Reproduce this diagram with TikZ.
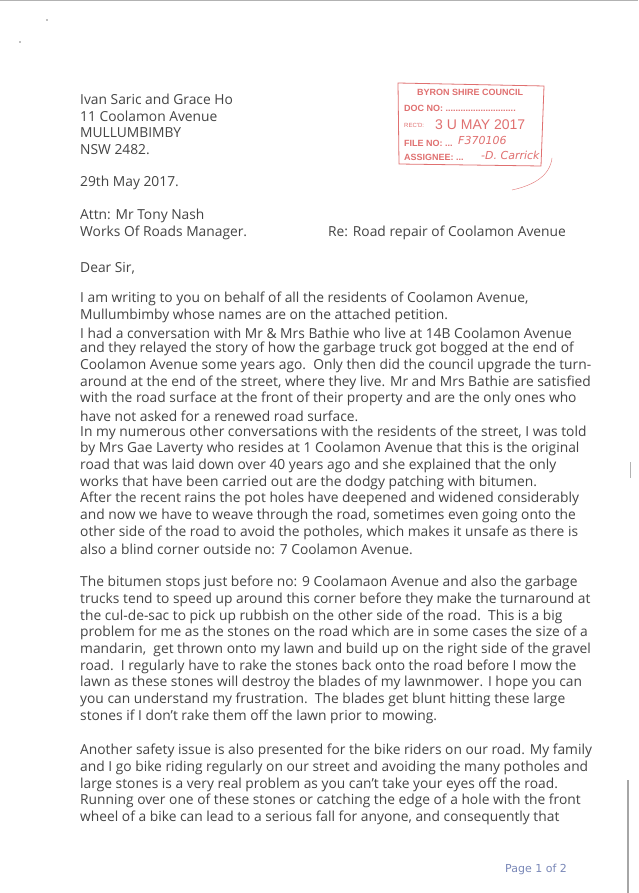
\documentclass[tikz,border=0pt]{standalone}
\usepackage{fontspec}
\setmainfont{Open Sans}
\newfontfamily\stampfont{Liberation Sans}
\newfontfamily\handfont{DejaVu Sans}
\usetikzlibrary{positioning}
\definecolor{ink}{HTML}{444444}
\definecolor{stampred}{HTML}{E07070}
\definecolor{pencil}{HTML}{7A88B8}
\tikzset{
  txt/.style={anchor=west, inner sep=0pt, text=ink, font=\fontsize{13.8}{13.8}\selectfont},
  stamptxt/.style={anchor=west, inner sep=0pt, text=stampred, font=\stampfont\bfseries\fontsize{9}{9}\selectfont},
  hand/.style={anchor=west, inner sep=0pt, text=stampred, font=\handfont\itshape\fontsize{11}{11}\selectfont}
}
\begin{document}
\begin{tikzpicture}[x=1pt,y=-1pt]
  \useasboundingbox (0,0) rectangle (638,893);
  \fill[white] (0,0) rectangle (638,893);
  % scan marks
  \draw[gray!60, line width=0.8pt] (0,0.5) -- (638,0.5);
  \draw[gray!70, line width=1.2pt] (628,780) -- (628,893);
  \draw[gray!60] (630,462) -- (630,478);
  \fill[gray] (47,20) circle (0.8) (20,42) circle (0.8);

  % sender
  \node[txt] (from1) at (80,99) {Ivan Saric and Grace Ho};
  \node[txt] (from2) at (80,116) {11 Coolamon Avenue};
  \node[txt] (from3) at (80,133) {MULLUMBIMBY};
  \node[txt] (from4) at (80,150) {NSW 2482.};
  \node[txt] (date) at (80,183) {29th May 2017.};
  \node[txt] (attn1) at (80,216) {Attn: Mr Tony Nash};
  \node[txt] (attn2) at (80,233) {Works Of Roads Manager.};
  \node[txt] (re) at (328,233) {Re: Road repair of Coolamon Avenue};
  \node[txt] (dear) at (80,268) {Dear Sir,};

  % stamp
  \draw[stampred, line width=0.8pt] (398,83) -- (544,86) -- (541,166) -- (399,164) -- cycle;
  \node[stamptxt] (st1) at (417,92) {BYRON SHIRE COUNCIL};
  \node[stamptxt] (st2) at (404,108) {DOC NO: ............................};
  \node[stamptxt, font=\stampfont\fontsize{6}{6}\selectfont] (st3) at (404,125) {REC'D:};
  \node[stamptxt, font=\stampfont\fontsize{14}{14}\selectfont] (st4) at (435,125) {3 U MAY 2017};
  \node[stamptxt] (st5) at (404,143) {FILE NO: ...};
  \node[stamptxt] (st6) at (404,157) {ASSIGNEE: ...};
  \node[hand] (fileno) at (458,140) {F370106};
  \node[hand] (assignee) at (481,155) {-D. Carrick};
  \draw[stampred] (552,158) .. controls (550,175) and (535,185) .. (512,190);

  % body
  \foreach \y/\t in {
    299/{I am writing to you on behalf of all the residents of Coolamon Avenue,},
    316/{Mullumbimby whose names are on the attached petition.},
    333/{I had a conversation with Mr \& Mrs Bathie who live at 14B Coolamon Avenue},
    349/{and they relayed the story of how the garbage truck got bogged at the end of},
    366/{Coolamon Avenue some years ago.\ \ Only then did the council upgrade the turn-},
    383/{around at the end of the street, where they live. Mr and Mrs Bathie are satisfied},
    399/{with the road surface at the front of their property and are the only ones who},
    416/{have not asked for a renewed road surface.},
    433/{In my numerous other conversations with the residents of the street, I was told},
    449/{by Mrs Gae Laverty who resides at 1 Coolamon Avenue that this is the original},
    466/{road that was laid down over 40 years ago and she explained that the only},
    483/{works that have been carried out are the dodgy patching with bitumen.},
    499/{After the recent rains the pot holes have deepened and widened considerably},
    516/{and now we have to weave through the road, sometimes even going onto the},
    533/{other side of the road to avoid the potholes, which makes it unsafe as there is},
    549/{also a blind corner outside no: 7 Coolamon Avenue.},
    583/{The bitumen stops just before no: 9 Coolamaon Avenue and also the garbage},
    600/{trucks tend to speed up around this corner before they make the turnaround at},
    617/{the cul-de-sac to pick up rubbish on the other side of the road.\ \ This is a big},
    633/{problem for me as the stones on the road which are in some cases the size of a},
    650/{mandarin,\ \ get thrown onto my lawn and build up on the right side of the gravel},
    667/{road.\ \ I regularly have to rake the stones back onto the road before I mow the},
    683/{lawn as these stones will destroy the blades of my lawnmower. I hope you can},
    700/{you can understand my frustration.\ \ The blades get blunt hitting these large},
    717/{stones if I don't rake them off the lawn prior to mowing.},
    751/{Another safety issue is also presented for the bike riders on our road. My family},
    768/{and I go bike riding regularly on our street and avoiding the many potholes and},
    785/{large stones is a very real problem as you can't take your eyes off the road.},
    801/{Running over one of these stones or catching the edge of a hole with the front},
    818/{wheel of a bike can lead to a serious fall for anyone, and consequently that}}
    \node[txt] (line\y) at (80,\y) {\t};

  % page mark
  \node[hand, text=pencil, font=\handfont\fontsize{11}{11}\selectfont] (page) at (505,869) {Page 1 of 2};
\end{tikzpicture}
\end{document}
